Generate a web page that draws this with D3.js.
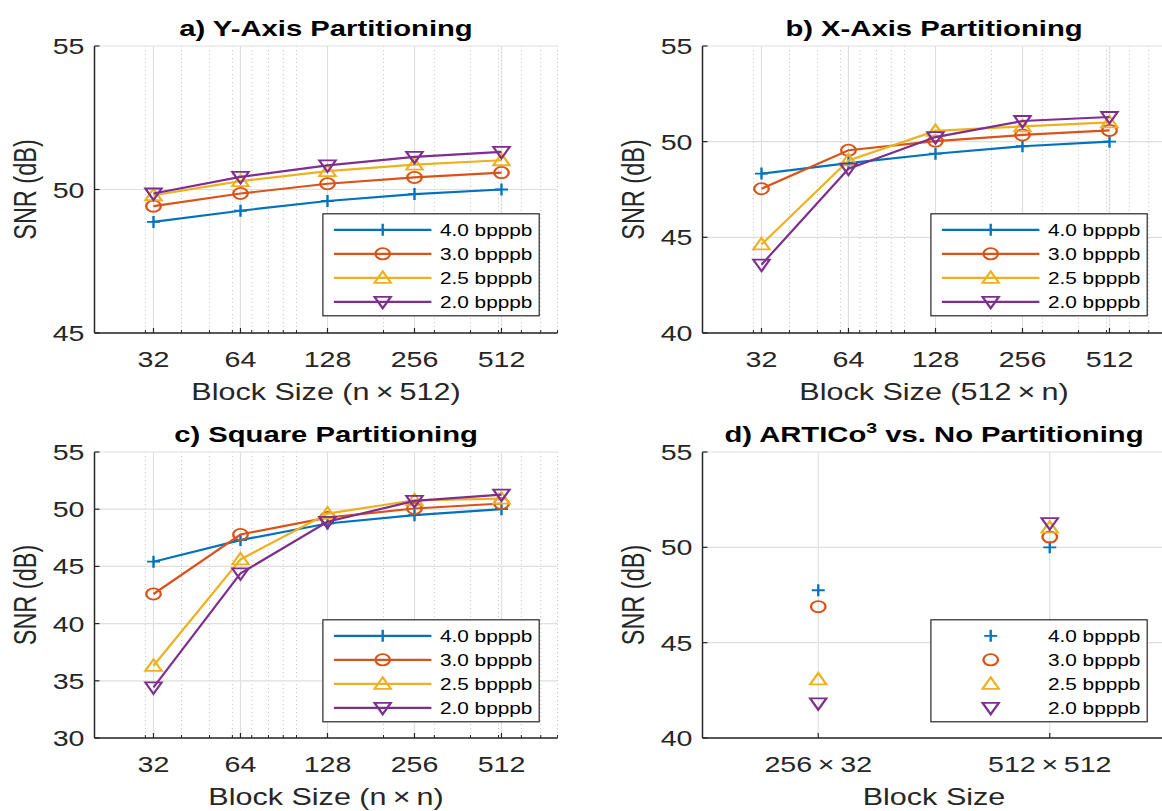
<!DOCTYPE html>
<html>
<head>
<meta charset="utf-8">
<script src="https://cdn.jsdelivr.net/npm/d3@7"></script>
<style>
  body { margin: 0; background: #fff; }
  svg { display: block; }
  text { font-family: "Liberation Sans", Arial, Helvetica, sans-serif; fill: #262626; }
</style>
</head>
<body>
<svg id="fig" width="1162" height="811"></svg>
<script>
// ---- data ----
var seriesNames = ["4.0 bpppb", "3.0 bpppb", "2.5 bpppb", "2.0 bpppb"];
var seriesColors = ["#0072BD", "#D95319", "#EDB120", "#7E2F8E"];
var seriesMarkers = ["plus", "circle", "up", "down"];

var blockSizes = [32, 64, 128, 256, 512];
var minorTicks = [20, 30, 40, 50, 60, 70, 80, 90, 100, 200, 300, 400, 500, 600, 700, 800];

// a) Y-axis partitioning (n x 512)
var yPart40 = [48.87, 49.26, 49.60, 49.84, 50.00];
var yPart30 = [49.42, 49.86, 50.20, 50.42, 50.59];
var yPart25 = [49.80, 50.29, 50.64, 50.87, 51.02];
var yPart20 = [49.86, 50.44, 50.84, 51.14, 51.31];

// b) X-axis partitioning (512 x n)
var xPart40 = [48.33, 48.88, 49.37, 49.76, 50.00];
var xPart30 = [47.54, 49.55, 50.03, 50.35, 50.59];
var xPart25 = [44.63, 49.02, 50.56, 50.80, 51.01];
var xPart20 = [43.57, 48.59, 50.24, 51.08, 51.29];

// c) square partitioning (n x n)
var sqPart40 = [45.41, 47.30, 48.75, 49.48, 50.00];
var sqPart30 = [42.59, 47.79, 49.27, 50.06, 50.50];
var sqPart25 = [36.31, 45.61, 49.62, 50.78, 50.93];
var sqPart20 = [34.42, 44.39, 48.90, 50.73, 51.28];

// d) ARTICo3 vs no partitioning
var cmpBlocks = ["256\u2009\u00d7\u200932", "512\u2009\u00d7\u2009512"];
var cmp40 = [47.75, 50.00];
var cmp30 = [46.89, 50.54];
var cmp25 = [43.07, 51.03];
var cmp20 = [41.82, 51.27];

// ---- layout ----
var SX = 1.3;          // the figure is stretched horizontally
var W = 463;
var panels = [
  { title: "a) Y-Axis Partitioning", xlabel: "Block Size (n\u2009\u00d7\u2009512)", left: 94.5, top: 46, h: 287,
    yDomain: [45, 55], yTicks: [45, 50, 55], values: [yPart40, yPart30, yPart25, yPart20], log: true },
  { title: "b) X-Axis Partitioning", xlabel: "Block Size (512\u2009\u00d7\u2009n)", left: 702.5, top: 46, h: 287,
    yDomain: [40, 55], yTicks: [40, 45, 50, 55], values: [xPart40, xPart30, xPart25, xPart20], log: true },
  { title: "c) Square Partitioning", xlabel: "Block Size (n\u2009\u00d7\u2009n)", left: 94.5, top: 452, h: 286,
    yDomain: [30, 55], yTicks: [30, 35, 40, 45, 50, 55], values: [sqPart40, sqPart30, sqPart25, sqPart20], log: true },
  { title: null, xlabel: "Block Size", left: 702.5, top: 452, h: 286,
    yDomain: [40, 55], yTicks: [40, 45, 50, 55], values: [cmp40, cmp30, cmp25, cmp20], log: false }
];

var svg = d3.select("#fig");
var AXIS = "#262626";

function stretch(x, y, extra) {
  return "translate(" + x + "," + y + ") scale(" + SX + ",1)" + (extra || "");
}

function drawMarker(sel, type, color) {
  var s;
  if (type === "circle") s = sel.append("circle").attr("r", 5.6);
  else if (type === "plus") s = sel.append("path").attr("d", "M-5,0H5M0,-6V6");
  else if (type === "up") s = sel.append("path").attr("d", "M0,-6.5L6.3,5L-6.3,5Z");
  else s = sel.append("path").attr("d", "M0,6.5L6.3,-5L-6.3,-5Z");
  s.attr("fill", "none").attr("stroke", color).attr("stroke-width", 1.8);
}

panels.forEach(function (p) {
  var bottom = p.top + p.h;
  var x = p.log
    ? d3.scaleLog().domain([20, 800]).range([p.left, p.left + W])
    : d3.scaleLinear().domain([0.5, 2.5]).range([p.left, p.left + W]);
  var y = d3.scaleLinear().domain(p.yDomain).range([bottom, p.top]);
  var xs = p.log ? blockSizes : [1, 2];

  var g = svg.append("g");

  // grid
  if (p.log) {
    g.selectAll(".minor").data(minorTicks).join("line")
        .attr("x1", d => x(d)).attr("x2", d => x(d))
        .attr("y1", p.top).attr("y2", bottom)
        .attr("stroke", "#c4c4c4").attr("stroke-dasharray", "1,3");
  }
  g.selectAll(".xgrid").data(xs).join("line")
      .attr("x1", d => x(d)).attr("x2", d => x(d))
      .attr("y1", p.top).attr("y2", bottom)
      .attr("stroke", "#dfdfdf").attr("stroke-width", 1.2);
  g.selectAll(".ygrid").data(p.yTicks).join("line")
      .attr("x1", p.left).attr("x2", p.left + W)
      .attr("y1", d => y(d)).attr("y2", d => y(d))
      .attr("stroke", "#dfdfdf").attr("stroke-width", 1.2);

  // series
  p.values.forEach(function (vals, i) {
    var pts = vals.map((v, j) => [x(xs[j]), y(v)]);
    if (p.log) {
      g.append("path")
          .attr("d", d3.line()(pts))
          .attr("fill", "none")
          .attr("stroke", seriesColors[i])
          .attr("stroke-width", 2.2);
    }
    pts.forEach(function (pt) {
      drawMarker(g.append("g").attr("transform", stretch(pt[0], pt[1])), seriesMarkers[i], seriesColors[i]);
    });
  });

  // axes lines and ticks
  g.append("line").attr("x1", p.left).attr("x2", p.left).attr("y1", p.top).attr("y2", bottom)
      .attr("stroke", AXIS).attr("stroke-width", 1.5);
  g.append("line").attr("x1", p.left).attr("x2", p.left + W).attr("y1", bottom).attr("y2", bottom)
      .attr("stroke", AXIS).attr("stroke-width", 1.5);
  g.selectAll(".yt").data(p.yTicks).join("line")
      .attr("x1", p.left).attr("x2", p.left + 5)
      .attr("y1", d => y(d)).attr("y2", d => y(d))
      .attr("stroke", AXIS).attr("stroke-width", 1.2);
  g.selectAll(".xt").data(xs).join("line")
      .attr("x1", d => x(d)).attr("x2", d => x(d))
      .attr("y1", bottom).attr("y2", bottom - 5)
      .attr("stroke", AXIS).attr("stroke-width", 1.2);
  if (p.log) {
    g.selectAll(".xmt").data(minorTicks).join("line")
        .attr("x1", d => x(d)).attr("x2", d => x(d))
        .attr("y1", bottom).attr("y2", bottom - 3)
        .attr("stroke", AXIS).attr("stroke-width", 1);
  }

  // tick labels
  g.selectAll(".ytl").data(p.yTicks).join("text")
      .attr("transform", d => stretch(p.left - 10, y(d) + 8))
      .attr("text-anchor", "end")
      .style("font-size", "22px")
      .text(d => d);
  g.selectAll(".xtl").data(xs).join("text")
      .attr("transform", d => stretch(x(d), bottom + 34))
      .attr("text-anchor", "middle")
      .style("font-size", "22px")
      .text((d, i) => p.log ? d : cmpBlocks[i]);

  // axis labels
  g.append("text")
      .attr("transform", stretch(p.left + W / 2, bottom + 67))
      .attr("text-anchor", "middle")
      .style("font-size", "23.5px")
      .text(p.xlabel);
  g.append("text")
      .attr("transform", stretch(p.left - 59, p.top + p.h / 2, " rotate(-90)"))
      .attr("text-anchor", "middle")
      .style("font-size", "23.5px")
      .text("SNR (dB)");

  // title
  var t = g.append("text")
      .attr("transform", stretch(p.left + W / 2, p.top - 10))
      .attr("text-anchor", "middle")
      .style("font-size", "22.5px")
      .style("font-weight", "bold")
      .style("fill", "#000");
  if (p.title) {
    t.text(p.title);
  } else {
    t.append("tspan").text("d) ARTICo");
    t.append("tspan").attr("dy", -9).style("font-size", "15px").text("3");
    t.append("tspan").attr("dy", 9).text(" vs. No Partitioning");
  }

  // legend
  var lx = p.left + 228.4, ly = p.top + 167.8;
  var lg = g.append("g");
  lg.append("rect")
      .attr("x", lx).attr("y", ly).attr("width", 216.3).attr("height", 102)
      .attr("fill", "#fff").attr("stroke", AXIS).attr("stroke-width", 1.2);
  seriesNames.forEach(function (name, i) {
    var ry = ly + 16 + 24 * i;
    if (p.log) {
      lg.append("line")
          .attr("x1", lx + 11).attr("x2", lx + 108.5)
          .attr("y1", ry).attr("y2", ry)
          .attr("stroke", seriesColors[i]).attr("stroke-width", 2.2);
    }
    drawMarker(lg.append("g").attr("transform", stretch(lx + 59.8, ry)), seriesMarkers[i], seriesColors[i]);
    lg.append("text")
        .attr("transform", stretch(lx + 117, ry + 5.8))
        .style("font-size", "16px")
        .style("fill", "#000")
        .text(name);
  });
});
</script>
</body>
</html>
